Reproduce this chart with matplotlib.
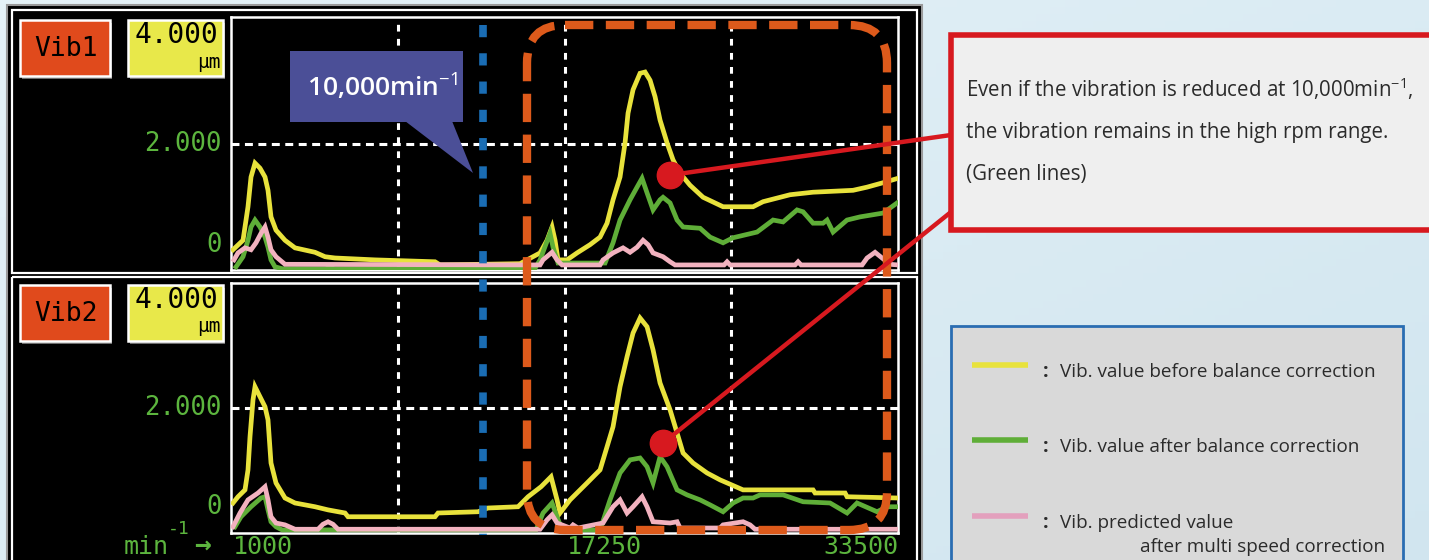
import numpy as np
import matplotlib.pyplot as plt
import matplotlib.transforms as mtransforms
from matplotlib.patches import Rectangle, FancyBboxPatch, Polygon, ConnectionPatch

plt.rcParams['mathtext.fontset'] = 'custom'
plt.rcParams['mathtext.rm'] = 'Open Sans'
plt.rcParams['mathtext.it'] = 'Open Sans:italic'
plt.rcParams['mathtext.bf'] = 'Open Sans:bold'

W, H = 1429, 560

# balancer screen scales
RPM_MIN, RPM_MID, RPM_MAX = 1000, 17250, 33500
RPM_GRID = [9125, 17250, 25375]
AMP_MAX = 4.0
AMP_GRID = 2.0
MARK_RPM = 13300          # where the 10,000min-1 marker sits on the screen

# Vib1 (upper screen), rpm / um
vib1_before_rpm = [1097, 1585, 1828, 1975, 2170, 2413, 2657, 2803, 2949, 3193, 3631, 4119,
                   5093, 5581, 6068, 8017, 10941, 11185, 15083, 16058, 16399, 16643, 16789,
                   16935, 17374, 17861, 18494, 18982, 19323, 19615, 19956, 20200, 20346,
                   20590, 20931, 21175, 21419, 21662, 21906, 22247, 22540, 22881, 23368,
                   24002, 24976, 26438, 26925, 28241, 29361, 31310, 31993, 32772, 33500]
vib1_before = [0.32, 0.47, 1.00, 1.47, 1.69, 1.61, 1.47, 1.26, 0.84, 0.63, 0.47, 0.35,
               0.28, 0.21, 0.19, 0.16, 0.13, 0.08, 0.10, 0.27, 0.47, 0.68, 0.47,
               0.16, 0.16, 0.27, 0.40, 0.52, 0.74, 1.11, 1.47, 2.01, 2.48,
               2.85, 3.11, 3.13, 3.00, 2.74, 2.37, 2.01, 1.74, 1.53, 1.34,
               1.15, 1.00, 1.00, 1.08, 1.19, 1.23, 1.26, 1.31, 1.38, 1.45]

vib1_after_rpm = [1244, 1585, 1828, 1975, 2170, 2413, 2657, 2803, 2949, 3144, 3500, 5600,
                  5824, 6050, 15800, 16058, 16545, 16692, 16935, 19226, 19615, 19956,
                  20444, 20785, 21028, 21272, 21565, 21906, 22052, 22394, 22735, 23027,
                  23856, 24343, 24976, 25464, 26633, 27413, 27900, 28582, 28875, 29361,
                  29849, 30044, 30336, 31018, 31652, 32772, 33455]
vib1_after = [0.05, 0.21, 0.47, 0.68, 0.79, 0.68, 0.52, 0.36, 0.16, 0.05, 0.02, 0.02,
              0.04, 0.02, 0.02, 0.16, 0.58, 0.36, 0.11, 0.11, 0.43, 0.79,
              1.11, 1.31, 1.45, 1.22, 0.95, 1.11, 1.15, 1.06, 0.79, 0.68,
              0.66, 0.52, 0.43, 0.51, 0.60, 0.79, 0.76, 0.95, 0.92, 0.74,
              0.74, 0.79, 0.60, 0.79, 0.84, 0.90, 1.06]

vib1_pred_rpm = [1146, 1341, 1682, 1975, 2218, 2462, 2657, 2803, 2949, 3193, 3631, 16058,
                 16204, 16643, 16887, 17130, 18982, 19128, 19615, 20103, 20444, 20785,
                 21077, 21321, 21565, 22052, 22394, 22637, 25025, 25171, 25318, 28485,
                 28631, 28777, 31750, 31993, 32382, 32723, 33113, 33500]
vib1_pred = [0.16, 0.27, 0.35, 0.32, 0.43, 0.58, 0.68, 0.52, 0.32, 0.21, 0.09, 0.08,
             0.16, 0.28, 0.16, 0.08, 0.08, 0.16, 0.27, 0.35, 0.28, 0.36,
             0.47, 0.40, 0.27, 0.21, 0.13, 0.08, 0.08, 0.13, 0.08, 0.08,
             0.13, 0.08, 0.08, 0.19, 0.28, 0.19, 0.09, 0.08]

# Vib2 (lower screen)
vib2_before_rpm = [1097, 1341, 1682, 1828, 1926, 2072, 2170, 2413, 2657, 2803, 2949, 3193,
                   3631, 4119, 5093, 5727, 6555, 6701, 10941, 11087, 13036, 13524, 14986,
                   15473, 16107, 16594, 16887, 17033, 17520, 18348, 18982, 19323, 19615,
                   19956, 20297, 20590, 20931, 21272, 21565, 21906, 22394, 22735, 23027,
                   23514, 24197, 24830, 25951, 29361, 29459, 30921, 31018, 33500]
vib2_before = [0.48, 0.58, 0.69, 1.01, 1.54, 2.13, 2.34, 2.18, 2.02, 1.81, 1.12, 0.80,
               0.56, 0.48, 0.42, 0.37, 0.32, 0.26, 0.26, 0.32, 0.34, 0.40, 0.42,
               0.58, 0.74, 0.90, 0.53, 0.32, 0.53, 0.80, 1.01, 1.38, 1.70,
               2.34, 2.82, 3.20, 3.44, 3.30, 2.93, 2.40, 1.97, 1.60, 1.28,
               1.12, 0.96, 0.85, 0.69, 0.69, 0.64, 0.64, 0.58, 0.56]

vib2_after_rpm = [1195, 1487, 1975, 2462, 2657, 2803, 2949, 3193, 3485, 15863, 16204, 16643,
                  16887, 17130, 18982, 19469, 19956, 20444, 20931, 21272, 21565, 21906,
                  22247, 22735, 23222, 23856, 24343, 24976, 25464, 25951, 26438, 26779,
                  27900, 28875, 30190, 31018, 31505, 32480, 32967, 33455]
vib2_after = [0.10, 0.26, 0.42, 0.56, 0.58, 0.37, 0.18, 0.10, 0.05, 0.05, 0.32, 0.48,
              0.26, 0.05, 0.05, 0.53, 0.96, 1.17, 1.20, 1.06, 0.80, 1.22,
              1.06, 0.69, 0.61, 0.53, 0.45, 0.34, 0.48, 0.56, 0.56, 0.61,
              0.61, 0.50, 0.48, 0.32, 0.48, 0.34, 0.42, 0.42]

vib2_pred_rpm = [1097, 1439, 1828, 2316, 2657, 2803, 2949, 3193, 3631, 4119, 5240, 5483,
                 5727, 5970, 6214, 16058, 16399, 16643, 16887, 17520, 17666, 17910, 19128,
                 19615, 19956, 20297, 20590, 21028, 21272, 21565, 22394, 22735, 22881,
                 24830, 24976, 25951, 26292, 26535, 33500]
vib2_pred = [0.10, 0.32, 0.53, 0.64, 0.74, 0.53, 0.26, 0.16, 0.13, 0.06, 0.06, 0.14,
             0.18, 0.14, 0.06, 0.06, 0.21, 0.29, 0.16, 0.08, 0.13, 0.08, 0.16,
             0.42, 0.53, 0.32, 0.42, 0.58, 0.42, 0.18, 0.16, 0.18, 0.08,
             0.08, 0.13, 0.18, 0.13, 0.06, 0.06]

series_labels = ['Vib. value before balance correction',
                 'Vib. value after balance correction',
                 'Vib. predicted value']
YELLOW, GREEN, PINK = '#e8e23c', '#5fae38', '#f2b2bf'
SCREEN_GREEN = '#5cb53e'
RED = '#d7191f'
ORANGE = '#dd5a1b'
MONO = 'DejaVu Sans Mono'
SANS = 'Open Sans'

fig = plt.figure(figsize=(W / 100, H / 100), dpi=100)

# background + screen body, in pixel coordinates
bg = fig.add_axes([0, 0, 1, 1], zorder=0)
bg.set_xlim(0, W)
bg.set_ylim(H, 0)
bg.axis('off')
gx = np.linspace(0, 1, 200)
gy = np.linspace(0, 1, 80)
grad = 0.55 * gx[None, :] + 0.45 * gy[:, None]
c0 = np.array([0.90, 0.95, 0.97])
c1 = np.array([0.82, 0.90, 0.94])
img = c0[None, None, :] * (1 - grad[..., None]) + c1[None, None, :] * grad[..., None]
bg.imshow(img, extent=[0, W, H, 0], aspect='auto', zorder=0)

bg.add_patch(Rectangle((7, 5), 915, 560, fc='black', ec='#9a9a9a', lw=1.5, zorder=1))
bg.add_patch(Rectangle((12, 10), 905, 263, fc='none', ec='white', lw=1.6, zorder=2))
bg.add_patch(Rectangle((12, 277), 905, 290, fc='none', ec='white', lw=1.6, zorder=2))


def screen_box(x0, y0, x1, y1, face):
    bg.add_patch(Rectangle((x0 + 2, y0 + 3), x1 - x0, y1 - y0, fc='#6e6e6e', ec='none', zorder=3))
    bg.add_patch(Rectangle((x0, y0), x1 - x0, y1 - y0, fc=face, ec='white', lw=1.8, zorder=4))


for name, top in [('Vib1', 20), ('Vib2', 285)]:
    screen_box(20, top, 110, top + 56, '#e04a1c')
    bg.text(66, top + 29, name, family=MONO, fontsize=19, color='black',
            ha='center', va='center', zorder=5)
    screen_box(128, top, 223, top + 56, '#e8e84a')
    bg.text(176, top + 15, '4.000', family=MONO, fontsize=20, color='black',
            ha='center', va='center', zorder=5)
    bg.text(221, top + 42, 'μm', family=MONO, fontsize=14, color='black',
            ha='right', va='center', zorder=5)

# min-1 -> label left of the rpm axis
bg.text(124, 559, 'min', family=MONO, fontsize=18, color=SCREEN_GREEN, va='bottom', zorder=5)
bg.text(168, 520, '-1', family=MONO, fontsize=13, color=SCREEN_GREEN, va='top', zorder=5)
bg.text(194, 559, '→', family=MONO, fontsize=20, color=SCREEN_GREEN, va='bottom',
        fontweight='bold', zorder=5)

# data panels
ax1 = fig.add_axes([231 / W, 1 - 270 / H, 667 / W, 253 / H], zorder=2)
ax2 = fig.add_axes([231 / W, 1 - 533 / H, 667 / W, 250 / H], zorder=2)

panels = [
    (ax1, (vib1_before_rpm, vib1_before), (vib1_after_rpm, vib1_after), (vib1_pred_rpm, vib1_pred)),
    (ax2, (vib2_before_rpm, vib2_before), (vib2_after_rpm, vib2_after), (vib2_pred_rpm, vib2_pred)),
]
for ax, before, after, pred in panels:
    ax.set_facecolor('black')
    ax.set_xlim(RPM_MIN, RPM_MAX)
    ax.set_ylim(0, AMP_MAX)
    ax.set_xticks([])
    ax.set_yticks([])
    for s in ax.spines.values():
        s.set_color('white')
        s.set_linewidth(1.8)
    for r in RPM_GRID:
        ax.axvline(r, color='white', lw=2.2, ls=(0, (2.2, 2.4)), zorder=1)
    ax.axhline(AMP_GRID, color='white', lw=2.2, ls=(0, (2.6, 1.8)), zorder=1)
    ax.plot(*before, color=YELLOW, lw=3.4, zorder=3, solid_joinstyle='miter')
    ax.plot(*after, color=GREEN, lw=3.4, zorder=4, solid_joinstyle='miter')
    ax.plot(*pred, color=PINK, lw=3.4, zorder=5, solid_joinstyle='miter')
    # amplitude labels
    ax.annotate(f'{AMP_GRID:.3f}', xy=(0, AMP_GRID), xycoords=('axes fraction', 'data'),
                xytext=(-6.5, 0), textcoords='offset points', ha='right', va='center',
                family=MONO, fontsize=18.5, color=SCREEN_GREEN, annotation_clip=False)
    ax.annotate('0', xy=(0, 0), xycoords=('axes fraction', 'data'),
                xytext=(-6.5, 9), textcoords='offset points', ha='right', va='bottom',
                family=MONO, fontsize=18.5, color=SCREEN_GREEN, annotation_clip=False)

# rpm labels under the lower screen
for rpm, ha in [(RPM_MIN, 'left'), (RPM_MID, 'left'), (RPM_MAX, 'right')]:
    ax2.annotate(f'{rpm}', xy=(rpm, 0), xycoords=('data', 'axes fraction'),
                 xytext=(1.5 if ha == 'left' else 0, -18.5), textcoords='offset points',
                 ha=ha, va='bottom', family=MONO, fontsize=18, color=SCREEN_GREEN,
                 annotation_clip=False)

# overlay: markers, callouts, legend
ov = fig.add_axes([0, 0, 1, 1], zorder=5)
ov.set_xlim(0, W)
ov.set_ylim(H, 0)
ov.axis('off')
ov.patch.set_alpha(0)

# 10,000min-1 marker line (x through the rpm scale)
mark_tr = mtransforms.blended_transform_factory(ax1.transData, ov.transData)
ov.plot([MARK_RPM, MARK_RPM], [25, 535], transform=mark_tr, color='#1a6db4', lw=5.5,
        ls=(0, (1.6, 2.1)), solid_capstyle='butt', dash_capstyle='butt')

# high rpm range highlight
ov.add_patch(FancyBboxPatch((527, 25), 360, 505, boxstyle='round,pad=0,rounding_size=38',
                            fc='none', ec=ORANGE, lw=6, ls=(0, (3.4, 1.5))))

# 10,000min-1 balloon
ov.add_patch(Polygon([(405, 121), (452, 121), (473, 173)], closed=True, fc='#4b4f97', ec='none'))
ov.add_patch(Rectangle((290, 51), 173, 71, fc='#4b4f97', ec='none'))
ov.text(307, 97, r'10,000min$^{-1}$', family=SANS, fontsize=19, color='white',
        fontweight='semibold', va='baseline', ha='left')

# comment box + pointers to the green lines
ov.add_patch(Rectangle((951, 35), 520, 195, fc='#efefef', ec=RED, lw=4, zorder=3))
note = ['Even if the vibration is reduced at 10,000min$^{-1}$,',
        'the vibration remains in the high rpm range.',
        '(Green lines)']
for line, yb in zip(note, [97, 138, 180]):
    ov.text(966, yb, line, family=SANS, fontsize=14.8, color='#2b2b2b', va='baseline', zorder=4)

for ax, pt, target in [(ax1, (22394, 1.50), (951, 135)), (ax2, (22052, 1.44), (951, 212))]:
    con = ConnectionPatch(xyA=pt, coordsA=ax.transData, xyB=target, coordsB=ov.transData,
                          color=RED, lw=3.2, zorder=2)
    ov.add_artist(con)
    ov.plot(*pt, 'o', transform=ax.transData, color=RED, ms=19, zorder=2, clip_on=False)

# legend box
ov.add_patch(Rectangle((951, 326), 452, 260, fc='#d9d9d9', ec='#2a6db2', lw=2, zorder=3))
for color, label, y in zip([YELLOW, GREEN, '#e3a0bd'], series_labels, [365, 440, 516]):
    ov.plot([972, 1028], [y, y], color=color, lw=4, solid_capstyle='butt', zorder=4)
    ov.text(1043, y + 12, ':', family=SANS, fontsize=14, color='#2b2b2b',
            va='baseline', fontweight='bold', zorder=4)
    ov.text(1060, y + 12, label, family=SANS, fontsize=13.6, color='#2b2b2b',
            va='baseline', zorder=4)
ov.text(1140, 552, 'after multi speed correction', family=SANS, fontsize=13.6,
        color='#2b2b2b', va='baseline', zorder=4)

fig.savefig('out.png', dpi=100)
